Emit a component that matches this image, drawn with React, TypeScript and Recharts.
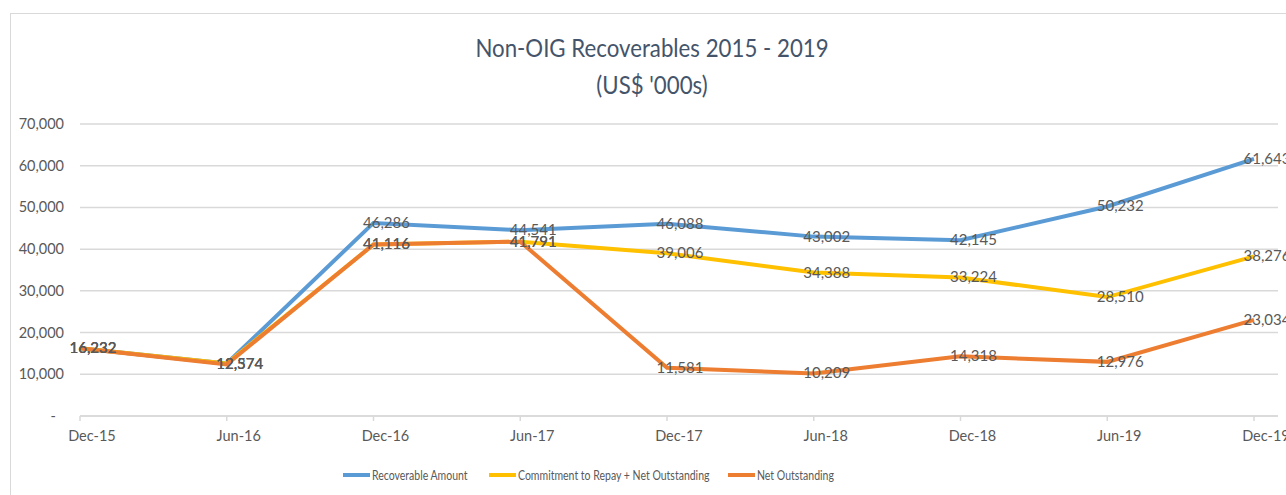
import { CartesianGrid, Line, LineChart, XAxis, YAxis } from "recharts";

const periods = ["Dec-15", "Jun-16", "Dec-16", "Jun-17", "Dec-17", "Jun-18", "Dec-18", "Jun-19", "Dec-19"];
const recoverable = [16232, 12574, 46286, 44541, 46088, 43002, 42145, 50232, 61643];
const commitment = [16232, 12574, 41116, 41791, 39006, 34388, 33224, 28510, 38276];
const netOutstanding = [16232, 12374, 41116, 41791, 11581, 10209, 14318, 12976, 23034];
const yTicks = [0, 10000, 20000, 30000, 40000, 50000, 60000, 70000];

const data = periods.map((label, i) => ({
  label,
  recoverable: recoverable[i],
  commitment: commitment[i],
  net: netOutstanding[i],
}));

const FONT = "Lato, sans-serif";
const TEXT = "#595959";

const fmt = (v: number) => v.toLocaleString("en-US");

const legendItems = [
  { name: "Recoverable Amount", color: "#5B9BD5", left: 343 },
  { name: "Commitment to Repay + Net Outstanding", color: "#FFC000", left: 489 },
  { name: "Net Outstanding", color: "#ED7D31", left: 728 },
];

function YTick({ x, y, payload }: any) {
  const zero = payload.value === 0;
  return (
    <text x={zero ? x - 8 : x} y={y} dy={5} textAnchor="end" fill={TEXT} fontSize={14.5} fontFamily={FONT}>
      {zero ? "-" : fmt(payload.value)}
    </text>
  );
}

function XTick({ x, y, payload }: any) {
  return (
    <text x={x + 12} y={y} dy={12} textAnchor="middle" fill={TEXT} fontSize={14.5} fontFamily={FONT}>
      {payload.value}
    </text>
  );
}

function PointLabel({ x, y, value }: any) {
  return (
    <text x={x + 13} y={y} dy={5} textAnchor="middle" fill={TEXT} fontSize={15} fontFamily={FONT}>
      {fmt(value)}
    </text>
  );
}

export default function App() {
  return (
    <div style={{ position: "absolute", left: 0, top: 0, width: 1286, height: 495, overflow: "hidden", background: "#fff" }}>
      <div style={{ position: "absolute", left: 10, top: 13, width: 1400, height: 600, border: "1.5px solid #d9d9d9" }} />
      <div
        style={{
          position: "absolute",
          left: 0,
          width: 1304,
          top: 29,
          textAlign: "center",
          color: "#44546A",
          fontFamily: FONT,
          fontSize: 25,
          lineHeight: "37px",
          transform: "scaleX(0.89)",
          transformOrigin: "652px 0",
        }}
      >
        Non-OIG Recoverables 2015 - 2019
        <br />
        (US$ '000s)
      </div>
      <div style={{ position: "absolute", left: 0, top: 0 }}>
        <LineChart width={1286} height={495} data={data} margin={{ top: 124, right: 8, bottom: 49, left: 10 }}>
          <CartesianGrid stroke="#d9d9d9" vertical={false} strokeWidth={1.5} />
          <XAxis
            dataKey="label"
            height={30}
            padding={{ left: 0, right: 24 }}
            stroke="#d9d9d9"
            strokeWidth={1.5}
            tickSize={5}
            tickMargin={8}
            tick={<XTick />}
            interval={0}
          />
          <YAxis
            width={70}
            domain={[0, 70000]}
            ticks={yTicks}
            axisLine={false}
            tickLine={false}
            tickSize={0}
            tickMargin={16}
            tick={<YTick />}
          />
          <Line dataKey="recoverable" stroke="#5B9BD5" strokeWidth={4} dot={false} isAnimationActive={false} label={<PointLabel />} />
          <Line dataKey="commitment" stroke="#FFC000" strokeWidth={4} dot={false} isAnimationActive={false} label={<PointLabel />} />
          <Line dataKey="net" stroke="#ED7D31" strokeWidth={4} dot={false} isAnimationActive={false} label={<PointLabel />} />
        </LineChart>
      </div>
      {legendItems.map((it) => (
        <div
          key={it.name}
          style={{
            position: "absolute",
            left: it.left,
            top: 466,
            display: "flex",
            alignItems: "center",
            whiteSpace: "nowrap",
            fontFamily: FONT,
            fontSize: 14,
            color: TEXT,
          }}
        >
          <span style={{ display: "inline-block", width: 27, height: 4, background: it.color, marginRight: 2 }} />
          <span style={{ display: "inline-block", transform: "scaleX(0.75)", transformOrigin: "0 0" }}>{it.name}</span>
        </div>
      ))}
    </div>
  );
}
